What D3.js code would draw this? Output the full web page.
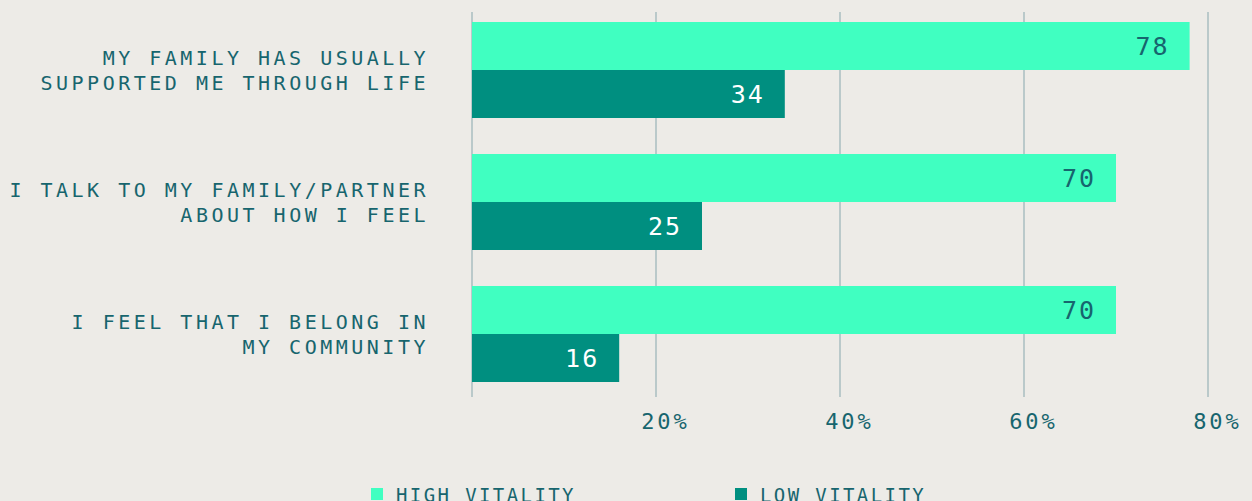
<!DOCTYPE html>
<html>
<head>
<meta charset="utf-8">
<script src="https://cdn.jsdelivr.net/npm/d3@7"></script>
<style>
  html, body { margin: 0; padding: 0; background: #edebe7; }
  svg { display: block; }
  text { font-family: "DejaVu Sans Mono", monospace; }
</style>
</head>
<body>
<svg id="chart" width="1252" height="501"></svg>
<script>
const categories = [
  ["MY FAMILY HAS USUALLY", "SUPPORTED ME THROUGH LIFE"],
  ["I TALK TO MY FAMILY/PARTNER", "ABOUT HOW I FEEL"],
  ["I FEEL THAT I BELONG IN", "MY COMMUNITY"]
];
const seriesNames = ["HIGH VITALITY", "LOW VITALITY"];
const highVitality = [78, 70, 70];
const lowVitality = [34, 25, 16];
const tickValues = [20, 40, 60, 80];
const tickLabels = ["20%", "40%", "60%", "80%"];

const colors = { "HIGH VITALITY": "#40ffc1", "LOW VITALITY": "#008f80" };
const textColor = "#17656e";
const gridColor = "#a8bec1";

const svg = d3.select("#chart");
const W = 1252, H = 501;
svg.append("rect").attr("width", W).attr("height", H).attr("fill", "#edebe7");

const x = d3.scaleLinear().domain([0, 80]).range([472, 1208]);
const keys = categories.map((c, i) => i);
const y0 = d3.scaleBand().domain(keys).range([22, 382]).paddingInner(0.2727).paddingOuter(0);
const y1 = d3.scaleBand().domain(seriesNames).range([0, y0.bandwidth()]);

const data = categories.map((c, i) => ({
  idx: i, label: c,
  values: [
    { key: "HIGH VITALITY", value: highVitality[i] },
    { key: "LOW VITALITY", value: lowVitality[i] }
  ]
}));

// gridlines
const gridTop = 12, gridBottom = 397;
svg.append("g").selectAll("line")
  .data([0].concat(tickValues))
  .join("line")
  .attr("x1", d => x(d)).attr("x2", d => x(d))
  .attr("y1", gridTop).attr("y2", gridBottom)
  .attr("stroke", gridColor).attr("stroke-width", 1.5);

// x axis labels
const axis = d3.axisBottom(x).tickValues(tickValues).tickFormat((d, i) => tickLabels[i]).tickSize(0).tickPadding(0);
const axisG = svg.append("g").attr("transform", `translate(0, 429)`).call(axis);
axisG.select(".domain").remove();
axisG.selectAll("text")
  .attr("dy", 0).attr("dx", 9)
  .attr("fill", textColor)
  .style("font-size", "22px")
  .style("letter-spacing", "3px");

// bars
const groups = svg.append("g").selectAll("g")
  .data(data).join("g")
  .attr("transform", d => `translate(0, ${y0(d.idx)})`);

groups.selectAll("rect")
  .data(d => d.values).join("rect")
  .attr("x", x(0))
  .attr("y", d => y1(d.key))
  .attr("width", d => x(d.value) - x(0))
  .attr("height", y1.bandwidth())
  .attr("fill", d => colors[d.key]);

groups.selectAll("text.val")
  .data(d => d.values).join("text")
  .attr("class", "val")
  .attr("x", d => x(d.value) - 20)
  .attr("y", d => y1(d.key) + y1.bandwidth() / 2)
  .attr("dy", "0.36em")
  .attr("text-anchor", "end")
  .attr("fill", d => d.key === "HIGH VITALITY" ? textColor : "#ffffff")
  .style("font-size", "25px")
  .style("letter-spacing", "2px")
  .text(d => d.value);

// category labels
const labelG = svg.append("g");
data.forEach(d => {
  const cy = y0(d.idx) + y0.bandwidth() / 2;
  const t = labelG.append("text")
    .attr("text-anchor", "end")
    .attr("fill", textColor)
    .style("font-size", "20px")
    .style("letter-spacing", "3.5px");
  d.label.forEach((line, j) => {
    t.append("tspan")
      .attr("x", 429)
      .attr("y", cy + 7.5 + (j - (d.label.length - 1) / 2) * 24.5)
      .text(line);
  });
});

// legend
const legend = svg.append("g");
const legendX = [371, 735];
seriesNames.forEach((name, i) => {
  legend.append("rect")
    .attr("x", legendX[i]).attr("y", 488)
    .attr("width", 12).attr("height", 12)
    .attr("fill", colors[name]);
  legend.append("text")
    .attr("x", legendX[i] + 25).attr("y", 502)
    .attr("fill", textColor)
    .style("font-size", "19px")
    .style("letter-spacing", "2.4px")
    .text(name);
});
</script>
</body>
</html>
